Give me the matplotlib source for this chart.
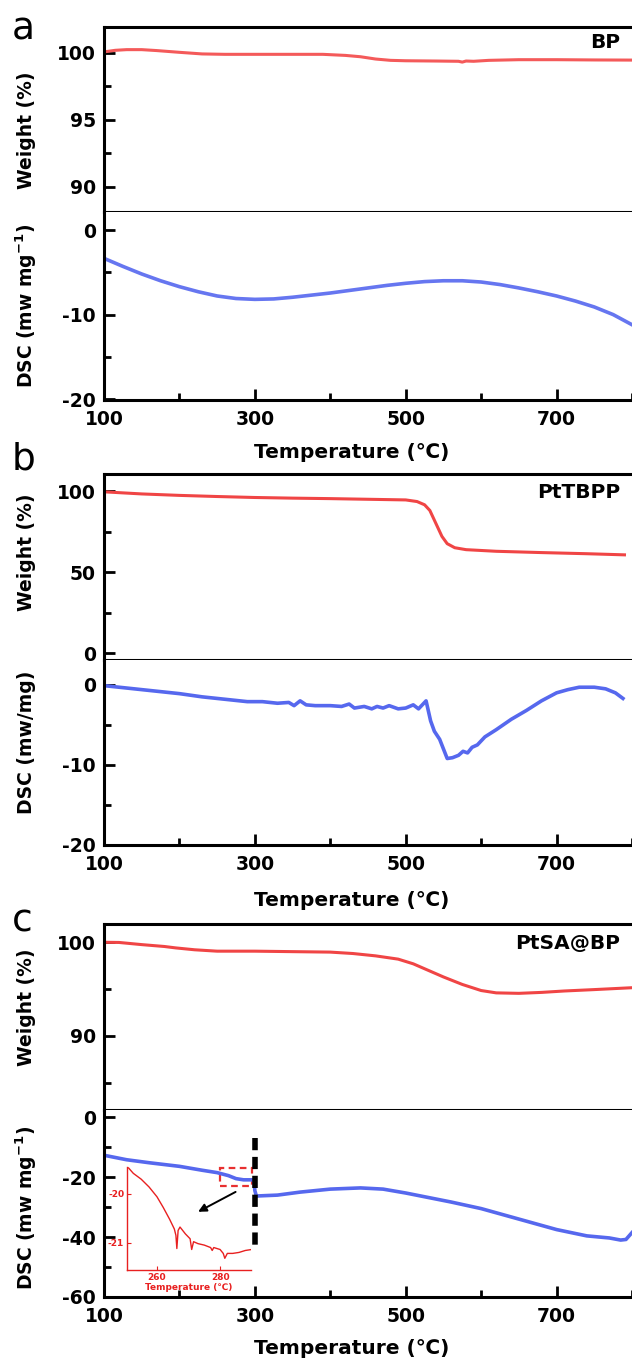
import matplotlib
matplotlib.use('Agg')
import matplotlib.pyplot as plt
from matplotlib.patches import Rectangle
from matplotlib.ticker import FixedLocator

plt.rcParams['font.family'] = ['DejaVu Sans', 'Noto Sans CJK SC']
plt.rcParams['font.weight'] = 'bold'
plt.rcParams['mathtext.fontset'] = 'dejavusans'
plt.rcParams['mathtext.default'] = 'bf'
plt.rcParams['axes.unicode_minus'] = False

# ---------------- data ----------------
bp_w_T = [100, 115, 130, 150, 170, 200, 230, 260, 300, 350, 390, 420, 440, 460, 480, 500,
          540, 570, 575, 580, 590, 610, 650, 700, 750, 800]
bp_w = [100.08, 100.2, 100.25, 100.25, 100.18, 100.05, 99.93, 99.9, 99.9, 99.9, 99.9, 99.82,
        99.72, 99.55, 99.45, 99.42, 99.4, 99.38, 99.32, 99.4, 99.38, 99.45, 99.5, 99.5, 99.48, 99.47]

bp_d_T = [100, 125, 150, 175, 200, 225, 250, 275, 300, 325, 350, 375, 400, 425, 450, 475, 500,
          525, 550, 575, 600, 625, 650, 675, 700, 725, 750, 775, 800]
bp_d = [-3.35, -4.3, -5.2, -6.0, -6.7, -7.3, -7.8, -8.1, -8.2, -8.15, -7.95, -7.7, -7.45, -7.15,
        -6.85, -6.55, -6.3, -6.1, -6.0, -6.0, -6.15, -6.45, -6.85, -7.3, -7.8, -8.4, -9.1, -10.0, -11.2]

pt_w_T = [100, 150, 200, 250, 300, 350, 400, 450, 500, 515, 525, 532, 540, 548, 555, 565, 580,
          620, 680, 740, 790]
pt_w = [99.5, 98.2, 97.3, 96.6, 96.0, 95.6, 95.3, 94.9, 94.5, 93.5, 91.5, 88.0, 80.0, 72.0,
        67.5, 65.0, 63.8, 62.8, 62.0, 61.3, 60.6]

pt_d_T = [100, 130, 160, 200, 230, 260, 290, 310, 330, 345, 352, 360, 368, 380, 400, 415, 425,
          432, 445, 455, 462, 470, 478, 490, 500, 510, 517, 522, 527, 533, 538, 545, 550, 555,
          562, 570, 576, 582, 588, 595, 605, 620, 640, 660, 680, 700, 715, 730, 750, 765, 778, 788]
pt_d = [-0.1, -0.4, -0.7, -1.1, -1.5, -1.8, -2.1, -2.1, -2.3, -2.2, -2.6, -2.0, -2.5, -2.6,
        -2.6, -2.7, -2.4, -2.9, -2.7, -3.0, -2.7, -2.9, -2.6, -3.0, -2.9, -2.5, -3.0, -2.5, -2.0,
        -4.5, -5.8, -6.8, -8.0, -9.2, -9.1, -8.8, -8.3, -8.5, -7.8, -7.5, -6.5, -5.6, -4.3, -3.2,
        -2.0, -1.0, -0.6, -0.3, -0.3, -0.5, -1.0, -1.7]

sa_w_T = [100, 120, 150, 180, 195, 220, 250, 300, 350, 400, 430, 460, 490, 510, 530, 550, 575,
          600, 620, 650, 680, 710, 750, 800]
sa_w = [100.0, 99.98, 99.75, 99.55, 99.4, 99.2, 99.05, 99.05, 99.0, 98.95, 98.8, 98.55, 98.2,
        97.7, 97.0, 96.3, 95.5, 94.85, 94.6, 94.55, 94.65, 94.8, 94.95, 95.15]

sa_d_T = [100, 130, 160, 200, 230, 250, 265, 275, 285, 297, 299, 300, 302, 330, 360, 400, 440,
          470, 500, 530, 560, 600, 650, 700, 740, 770, 785, 792, 800]
sa_d = [-12.7, -14.2, -15.2, -16.4, -17.7, -18.5, -19.5, -20.5, -20.9, -20.9, -21.5, -24.5,
        -26.3, -26.0, -25.0, -24.0, -23.6, -24.0, -25.3, -26.8, -28.3, -30.5, -34.0, -37.5,
        -39.6, -40.3, -41.0, -40.8, -38.5]

inset_T = [251, 252.5, 255, 257.5, 260, 262, 264, 265.5, 266, 266.3, 266.7, 267.3, 269, 270.5,
           271, 271.6, 273, 275, 277, 277.5, 278, 280, 281, 281.5, 282.3, 284, 286, 288, 290]
inset_d = [-19.47, -19.58, -19.70, -19.86, -20.06, -20.28, -20.52, -20.72, -20.85, -21.12,
           -20.75, -20.68, -20.82, -20.92, -21.14, -20.98, -21.02, -21.05, -21.1, -21.16, -21.1,
           -21.14, -21.22, -21.32, -21.22, -21.22, -21.2, -21.16, -21.14]

x_major = [100, 300, 500, 700]
x_minor = [200, 400, 600, 800]

RED = '#f04545'
RED_A = '#f45a5a'
BLUE = '#5668ee'
BLUE_A = '#6676f0'

W, H = 632, 1363
fig = plt.figure(figsize=(W / 100, H / 100), dpi=100)

def fx(px):
    return px / W

def fy(py):
    return 1 - py / H

LEFT = 104
TICK_FS = 13.5

def style(ax, ymaj, ymin, bottom_ticks):
    ax.spines['right'].set_visible(False)
    for s in ['left', 'top', 'bottom']:
        ax.spines[s].set_linewidth(2.2)
    ax.set_xlim(100, 800)
    ax.yaxis.set_major_locator(FixedLocator(ymaj))
    ax.yaxis.set_minor_locator(FixedLocator(ymin))
    ax.tick_params(axis='y', which='major', direction='in', length=8, width=2,
                   labelsize=TICK_FS, pad=6, right=False)
    ax.tick_params(axis='y', which='minor', direction='in', length=5, width=2, right=False)
    if bottom_ticks:
        ax.xaxis.set_major_locator(FixedLocator(x_major))
        ax.xaxis.set_minor_locator(FixedLocator(x_minor))
        ax.tick_params(axis='x', which='major', direction='in', length=8, width=2,
                       labelsize=TICK_FS, pad=7, top=False)
        ax.tick_params(axis='x', which='minor', direction='in', length=5, width=2, top=False)
        ax.spines['top'].set_visible(False)
    else:
        ax.set_xticks([])
    for lab in ax.get_xticklabels() + ax.get_yticklabels():
        lab.set_fontweight('bold')

def panel(top, div, bottom, Tw, w, Td, d, wlim, wmaj, wmin, dlim, dmaj, dmin,
          wcol, dcol, name, name_y, wlab_y, dlab_y, dlabel, temp_y, letter, letter_y):
    axw = fig.add_axes([fx(LEFT), fy(div), 1 - fx(LEFT), (div - top) / H])
    axd = fig.add_axes([fx(LEFT), fy(bottom), 1 - fx(LEFT), (bottom - div) / H])
    axw.plot(Tw, w, color=wcol, lw=2.2, solid_joinstyle='round')
    axd.plot(Td, d, color=dcol, lw=2.6, solid_joinstyle='round')
    axw.set_ylim(*wlim)
    axd.set_ylim(*dlim)
    style(axw, wmaj, wmin, False)
    style(axd, dmaj, dmin, True)
    fig.text(fx(620), fy(name_y), name, ha='right', va='center', fontsize=14.5,
             fontweight='bold')
    fig.text(fx(26), fy(wlab_y), 'Weight (%)', rotation=90, ha='center', va='center',
             fontsize=13.5, fontweight='bold')
    fig.text(fx(26), fy(dlab_y), dlabel, rotation=90, ha='center', va='center',
             fontsize=13.5, fontweight='bold')
    fig.text(fx(352), fy(temp_y), 'Temperature (\u2103)', ha='center', va='center',
             fontsize=14.5, fontweight='bold')
    fig.text(fx(12), fy(letter_y), letter, ha='left', va='baseline', fontsize=27,
             fontweight='normal')
    return axw, axd

panel(27, 212, 400, bp_w_T, bp_w, bp_d_T, bp_d,
      (88.13, 101.94), [90, 95, 100], [87.5, 92.5, 97.5],
      (-20.1, 2.13), [-20, -10, 0], [-15, -5],
      RED_A, BLUE_A, 'BP', 42, 130, 306, 'DSC (mw mg$^{-1}$)', 452, 'a', 39)

panel(474, 660, 845, pt_w_T, pt_w, pt_d_T, pt_d,
      (-4.3, 110.5), [0, 50, 100], [25, 75],
      (-20.0, 3.1), [-20, -10, 0], [-15, -5],
      RED, BLUE, 'PtTBPP', 492, 552, 742, 'DSC (mw/mg)', 901, 'b', 469)

axw_c, axd_c = panel(924, 1110, 1297, sa_w_T, sa_w, sa_d_T, sa_d,
                     (82.1, 101.95), [90, 100], [85, 95],
                     (-60.0, 2.4), [-60, -40, -20, 0], [-50, -30, -10],
                     RED, BLUE, 'PtSA@BP', 943, 1007, 1208, 'DSC (mw mg$^{-1}$)', 1349,
                     'c', 931)

# annotations in panel c
axd_c.plot([300, 300], [-6.9, -43.2], color='black', lw=4, ls=(0, (2.2, 1.2)))
axd_c.add_patch(Rectangle((254, -23.1), 42, 6.3, fill=False, ec='#e83030', lw=1.6,
                          ls=(0, (3, 2))))
axd_c.annotate('', xy=(221.5, -32.0), xytext=(277.7, -24.5),
               arrowprops=dict(arrowstyle='-|>', color='black', lw=1.4, mutation_scale=12))

# inset
ins = fig.add_axes([fx(127), fy(1270), (251 - 127) / W, (1270 - 1167) / H])
ins.plot(inset_T, inset_d, color='#e82020', lw=1.0)
ins.set_xlim(250.5, 289.8)
ins.set_ylim(-21.56, -19.45)
ins.patch.set_alpha(0)
for s in ['top', 'right']:
    ins.spines[s].set_visible(False)
for s in ['left', 'bottom']:
    ins.spines[s].set_color('#e82020')
    ins.spines[s].set_linewidth(1.0)
ins.set_xticks([260, 280])
ins.set_yticks([-21, -20])
ins.tick_params(direction='in', colors='#e82020', labelsize=6.5, length=3, width=0.8, pad=2)
for lab in ins.get_xticklabels() + ins.get_yticklabels():
    lab.set_fontweight('bold')
    lab.set_color('#e82020')
ins.set_xlabel('Temperature (\u2103)', fontsize=6.5, color='#e82020', fontweight='bold',
               labelpad=1)

fig.savefig('out.png', dpi=100)
